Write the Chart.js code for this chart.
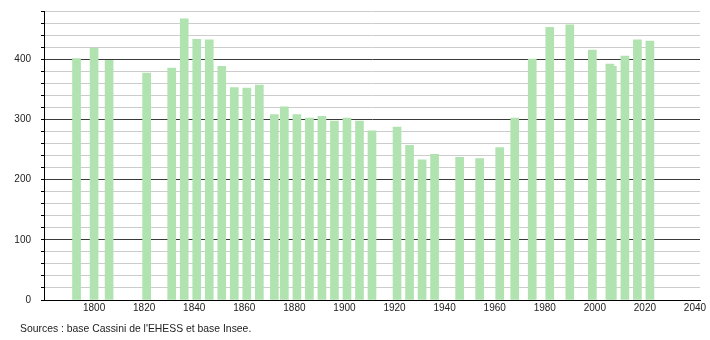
<!DOCTYPE html>
<html>
<head>
<meta charset="utf-8">
<script src="https://cdn.jsdelivr.net/npm/chart.js@4/dist/chart.umd.min.js"></script>
<style>
  html, body { margin: 0; padding: 0; background: #fff; }
  #wrap { width: 710px; height: 340px; position: relative; }
</style>
</head>
<body>
<div id="wrap"><canvas id="c" width="710" height="340"></canvas></div>
<script>
const years = [1793,1800,1806,1821,1831,1836,1841,1846,1851,1856,1861,1866,1872,1876,1881,1886,1891,1896,1901,1906,1911,1921,1926,1931,1936,1946,1954,1962,1968,1975,1982,1990,1999,2006,2007,2012,2017,2022];
const population = [401,418,398,377,385,467,433,432,388,353,352,357,308,321,308,302,305,297,302,297,281,287,257,233,242,237,235,253,302,400,453,457,415,392,388,405,432,430];
const xTickLabels = [1800,1820,1840,1860,1880,1900,1920,1940,1960,1980,2000,2020,2040];
const yTickLabels = [0,100,200,300,400];
const sourceText = "Sources : base Cassini de l'EHESS et base Insee.";

const FONT = "'Liberation Sans', Arial, sans-serif";

const sourcePlugin = {
  id: 'sourceText',
  afterDraw(chart) {
    const ctx = chart.ctx;
    ctx.save();
    ctx.font = "10.4px " + FONT;
    ctx.fillStyle = '#222';
    ctx.textAlign = 'left';
    ctx.textBaseline = 'middle';
    ctx.fillText(sourceText, 20, 329);
    ctx.restore();
  }
};

new Chart(document.getElementById('c'), {
  type: 'bar',
  data: {
    datasets: [{
      data: years.map((y, i) => ({ x: y, y: population[i] })),
      backgroundColor: '#b0e3b0',
      borderWidth: 0,
      barThickness: 8
    }]
  },
  options: {
    responsive: false,
    animation: false,
    layout: { padding: { left: 0, right: 10, top: 11, bottom: 22 } },
    plugins: { legend: { display: false }, tooltip: { enabled: false }, title: { display: false } },
    scales: {
      x: {
        type: 'linear',
        offset: false,
        min: 1780,
        max: 2042,
        afterBuildTicks(scale) { scale.ticks = xTickLabels.map(v => ({ value: v })); },
        afterFit(scale) { scale.height = 18; scale.paddingLeft = 0; scale.paddingRight = 0; },
        grid: { display: false, drawTicks: false, tickLength: 0, offset: false },
        border: { display: true, color: '#000', width: 1 },
        ticks: { color: '#222', font: { family: FONT, size: 10 }, padding: 2, maxRotation: 0, autoSkip: false,
                 callback: v => String(v) }
      },
      y: {
        min: 0,
        max: 480,
        afterFit(scale) { scale.width = 44; scale.paddingTop = 0; scale.paddingBottom = 0; },
        ticks: {
          stepSize: 20,
          color: '#222',
          font: { family: FONT, size: 10 },
          padding: 10,
          autoSkip: false,
          callback: v => yTickLabels.includes(v) ? String(v) : ''
        },
        grid: {
          color: ctx => (ctx.tick && ctx.tick.value % 100 === 0) ? '#3a3a3a' : '#cccccc',
          tickColor: '#000',
          tickLength: 3,
          lineWidth: 1
        },
        border: { display: true, color: '#000', width: 1 }
      }
    }
  },
  plugins: [sourcePlugin]
});
</script>
</body>
</html>
